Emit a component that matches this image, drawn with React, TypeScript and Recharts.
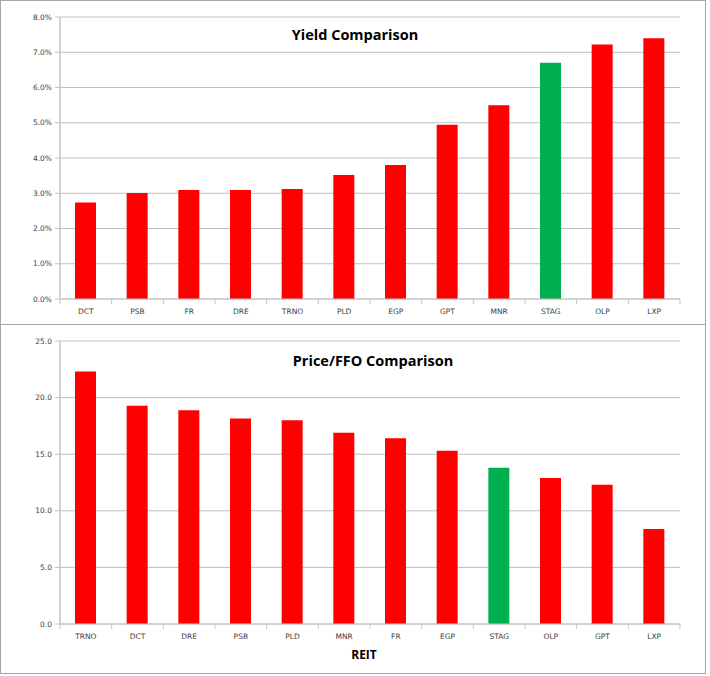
import { BarChart, Bar, XAxis, YAxis, CartesianGrid, Cell } from 'recharts';

// yield chart (%)
const yieldTickers = ['DCT', 'PSB', 'FR', 'DRE', 'TRNO', 'PLD', 'EGP', 'GPT', 'MNR', 'STAG', 'OLP', 'LXP'];
const yieldValues = [2.74, 3.01, 3.09, 3.09, 3.12, 3.52, 3.8, 4.94, 5.5, 6.7, 7.22, 7.4];
const yieldTicks = [0, 1, 2, 3, 4, 5, 6, 7, 8];

// price / FFO chart
const pffoTickers = ['TRNO', 'DCT', 'DRE', 'PSB', 'PLD', 'MNR', 'FR', 'EGP', 'STAG', 'OLP', 'GPT', 'LXP'];
const pffoValues = [22.3, 19.27, 18.88, 18.15, 18.0, 16.9, 16.4, 15.3, 13.8, 12.9, 12.3, 8.4];
const pffoTicks = [0, 5, 10, 15, 20, 25];

const highlight = 'STAG';

const RED = '#ff0000';
const GREEN = '#00b050';
const GRID = '#bfbfbf';
const AXIS = '#c4c4c4';
const TEXT = '#404040';
const FONT = '"DejaVu Sans", sans-serif';

const CHART_W = 704;
const PLOT_LEFT = 59;
const PLOT_RIGHT = 679;
const HALF_BAND = (PLOT_RIGHT - PLOT_LEFT) / 12 / 2;
const TICK_SIZE = 5;
const TICK_MARGIN = 3;

const CategoryTick = (props: any) => {
  const { x, y, payload, index, visibleTicksCount } = props;
  const axisY = y - TICK_SIZE - TICK_MARGIN;
  const last = index === visibleTicksCount - 1;
  return (
    <g>
      <line x1={x - HALF_BAND} x2={x - HALF_BAND} y1={axisY} y2={axisY + TICK_SIZE} stroke={AXIS} />
      {last && (
        <line x1={x + HALF_BAND} x2={x + HALF_BAND} y1={axisY} y2={axisY + TICK_SIZE} stroke={AXIS} />
      )}
      <text x={x} y={axisY + 15} textAnchor="middle" fill={TEXT} fontSize={7.5} fontFamily={FONT}>
        {payload.value}
      </text>
    </g>
  );
};

const Panel = ({ tickers, values, ticks, fmt, height, bottom, title, titleX, titleY, marginTop }: any) => {
  const data = tickers.map((t: string, i: number) => ({ name: t, value: values[i] }));
  return (
    <div
      style={{
        position: 'relative',
        width: CHART_W + 2,
        height: height + 2,
        boxSizing: 'border-box',
        border: '1px solid #a6a6a6',
        marginTop,
        background: '#fff',
      }}
    >
      <BarChart
        width={CHART_W}
        height={height}
        data={data}
        margin={{ top: 16, right: CHART_W - PLOT_RIGHT, bottom: bottom - 25, left: 0 }}
        barSize={21}
      >
        <CartesianGrid vertical={false} stroke={GRID} />
        <XAxis
          dataKey="name"
          height={25}
          axisLine={{ stroke: AXIS }}
          tickLine={false}
          tickSize={TICK_SIZE}
          tickMargin={TICK_MARGIN}
          interval={0}
          tick={<CategoryTick />}
        />
        <YAxis
          width={PLOT_LEFT}
          domain={[ticks[0], ticks[ticks.length - 1]]}
          ticks={ticks}
          interval={0}
          axisLine={{ stroke: AXIS, strokeWidth: 1.5 }}
          tickLine={{ stroke: AXIS }}
          tickSize={TICK_SIZE}
          tickMargin={3}
          tickFormatter={fmt}
          tick={{ fill: TEXT, fontSize: 7.5, fontFamily: FONT }}
        />
        <Bar dataKey="value" isAnimationActive={false}>
          {data.map((d: any) => (
            <Cell key={d.name} fill={d.name === highlight ? GREEN : RED} />
          ))}
        </Bar>
      </BarChart>
      <div
        style={{
          position: 'absolute',
          left: titleX - 150,
          top: titleY - 11,
          width: 300,
          textAlign: 'center',
          fontFamily: '"Open Sans", sans-serif',
          fontWeight: 700,
          fontSize: 14.5,
          lineHeight: '22px',
          color: '#000',
        }}
      >
        {title}
      </div>
    </div>
  );
};

export default function App() {
  return (
    <div style={{ position: 'absolute', left: 0, top: 0 }}>
      <Panel
        tickers={yieldTickers}
        values={yieldValues}
        ticks={yieldTicks}
        fmt={(v: number) => `${v.toFixed(1)}%`}
        height={323}
        bottom={25}
        title="Yield Comparison"
        titleX={354}
        titleY={34}
        marginTop={0}
      />
      <Panel
        tickers={pffoTickers}
        values={pffoValues}
        ticks={pffoTicks}
        fmt={(v: number) => v.toFixed(1)}
        height={348}
        bottom={49}
        title="Price/FFO Comparison"
        titleX={372}
        titleY={36}
        marginTop={-1}
      />
      <div
        style={{
          position: 'absolute',
          left: 314,
          top: 646,
          width: 100,
          textAlign: 'center',
          fontFamily: '"Open Sans", sans-serif',
          fontWeight: 700,
          fontSize: 12,
          lineHeight: '18px',
          color: '#000',
        }}
      >
        REIT
      </div>
    </div>
  );
}
